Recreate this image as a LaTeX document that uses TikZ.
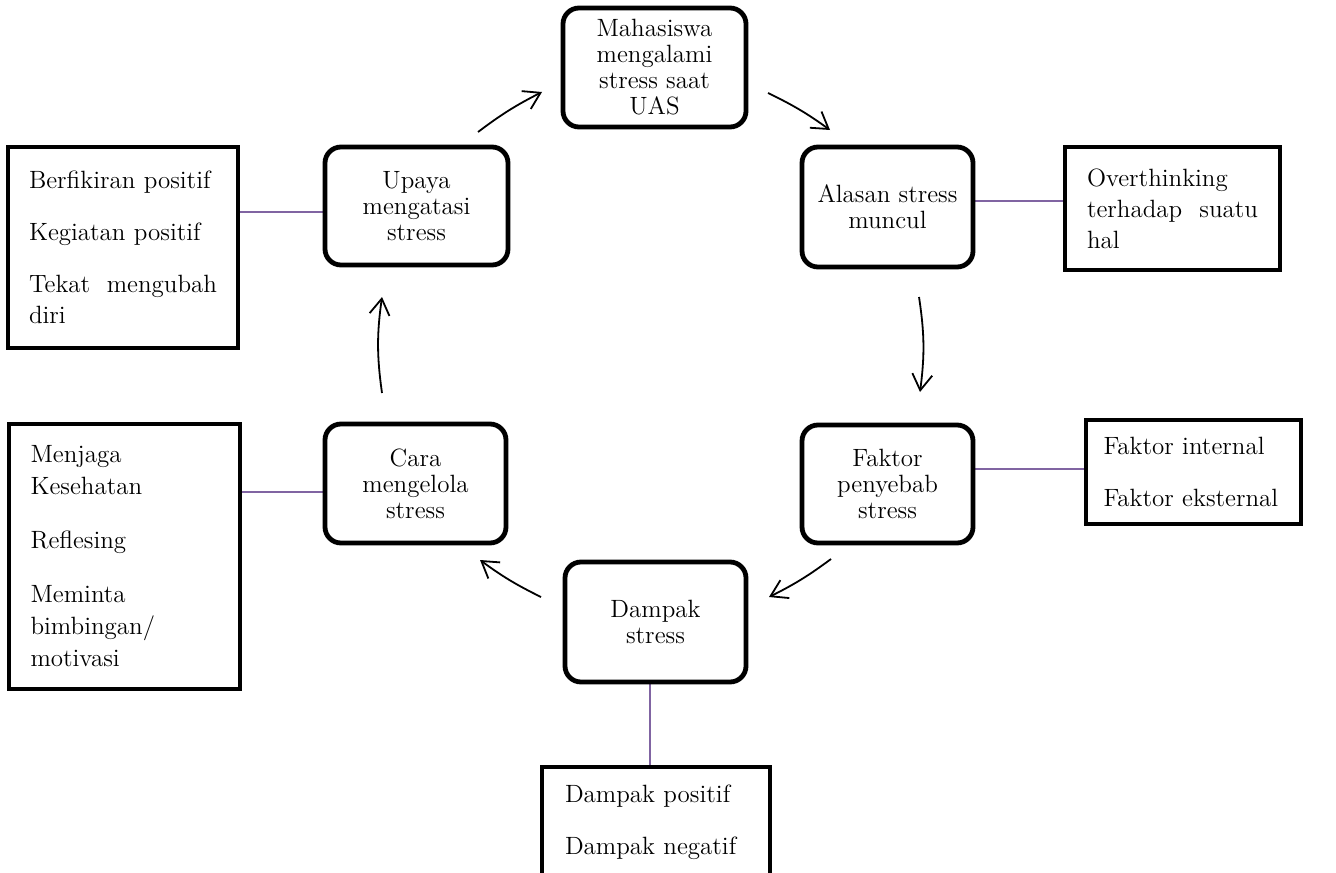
\documentclass[tikz,border=0pt]{standalone}
\usepackage{tikz}
\definecolor{white}{rgb}{1.0, 1.0, 1.0}
\definecolor{black}{rgb}{0.0, 0.0, 0.0}
\definecolor{lpurple}{RGB}{128, 100, 162}
\usetikzlibrary{arrows.meta}
\pgfdeclarelayer{edgelayer}
\pgfdeclarelayer{nodelayer}
\pgfsetlayers{edgelayer,nodelayer,main}
\tikzstyle{stage}=[draw=black,fill=white,line width=2.4pt,rounded corners=8pt,align=center,inner sep=2pt,font=\fontsize{12.5}{13}\selectfont]
\tikzstyle{note}=[draw=black,fill=white,line width=2.4pt,align=left,inner ysep=0pt,font=\fontsize{12.5}{15.5}\selectfont]
\tikzstyle{flow}=[-{Straight Barb[length=8pt,width=10pt]},line width=0.9pt,bend left=5]
\tikzstyle{link}=[draw=lpurple,line width=1pt]

\begin{document}
\begin{tikzpicture}[x=0.5pt,y=-0.5pt]
        \clip (0, 0) rectangle (1336, 872);
        \begin{pgfonlayer}{nodelayer}
            \node [style = stage, minimum width=91.5pt, minimum height=59.5pt] (mhs) at (654.5, 67.5) {Mahasiswa\\mengalami\\stress saat\\UAS};
            \node [style = stage, minimum width=91.5pt, minimum height=59pt] (upaya) at (416.5, 206) {Upaya\\mengatasi\\stress};
            \node [style = stage, minimum width=85.5pt, minimum height=60pt] (alasan) at (887.5, 207) {Alasan stress\\muncul};
            \node [style = stage, minimum width=85.5pt, minimum height=59pt] (faktor) at (887.5, 484) {Faktor\\penyebab\\stress};
            \node [style = stage, minimum width=90.5pt, minimum height=60pt] (dampak) at (655.5, 622) {Dampak\\stress};
            \node [style = stage, minimum width=90.5pt, minimum height=59.5pt] (cara) at (415.5, 483.5) {Cara\\mengelola\\stress};

            \node [style = note, text width=94pt, inner xsep=10.5pt, minimum height=100.5pt] (berf) at (123, 247.5) {Berfikiran positif\\[10.5pt]Kegiatan positif\\[10.5pt]Tekat\hspace{\fill} mengubah\\diri};
            \node [style = note, text width=85.5pt, inner xsep=11pt, minimum height=61.5pt] (over) at (1172.5, 208.5) {Overthinking\\terhadap\hspace{\fill} suatu\\hal};
            \node [style = note, text width=90pt, inner xsep=8.75pt, minimum height=52pt] (intern) at (1193.5, 472) {Faktor internal\\[10.5pt]Faktor eksternal};
            \node [style = note, text width=94pt, inner xsep=10.75pt, minimum height=132.5pt, font=\fontsize{12.5}{16}\selectfont] (jaga) at (124.5, 556.5) {Menjaga\\Kesehatan\\[11pt]Reflesing\\[11pt]Meminta\\bimbingan/\\motivasi};
            \node [style = note, text width=91pt, inner xsep=11.5pt, minimum height=55.5pt] (pos) at (656, 822.5) {Dampak positif\\[10.5pt]Dampak negatif};
        \end{pgfonlayer}

        \coordinate (f1) at (478, 132);
        \coordinate (t1) at (542, 92);
        \coordinate (f2) at (768, 93);
        \coordinate (t2) at (830, 130);
        \coordinate (f3) at (919, 297);
        \coordinate (t3) at (920, 392);
        \coordinate (f4) at (831, 559);
        \coordinate (t4) at (769, 597);
        \coordinate (f5) at (541, 597);
        \coordinate (t5) at (480, 560);
        \coordinate (f6) at (382, 393);
        \coordinate (t6) at (382, 297);

        \begin{pgfonlayer}{edgelayer}
            \draw [style = flow] (f1) to (t1);
            \draw [style = flow] (f2) to (t2);
            \draw [style = flow, bend left=8] (f3) to (t3);
            \draw [style = flow] (f4) to (t4);
            \draw [style = flow] (f5) to (t5);
            \draw [style = flow, bend left=8] (f6) to (t6);

            \draw [style = link] ([yshift=-3pt]upaya.west) to ([yshift=-3pt]upaya.west -| berf.east);
            \draw [style = link] ([yshift=3pt]alasan.east) to ([yshift=3pt]alasan.east -| over.west);
            \draw [style = link] ([yshift=7.5pt]faktor.east) to ([yshift=7.5pt]faktor.east -| intern.west);
            \draw [style = link] ([yshift=-4.25pt]cara.west) to ([yshift=-4.25pt]cara.west -| jaga.east);
            \draw [style = link] ([xshift=-2.75pt]dampak.south) to ([xshift=-2.75pt]dampak.south |- pos.north);
        \end{pgfonlayer}
    \end{tikzpicture}
\end{document}
